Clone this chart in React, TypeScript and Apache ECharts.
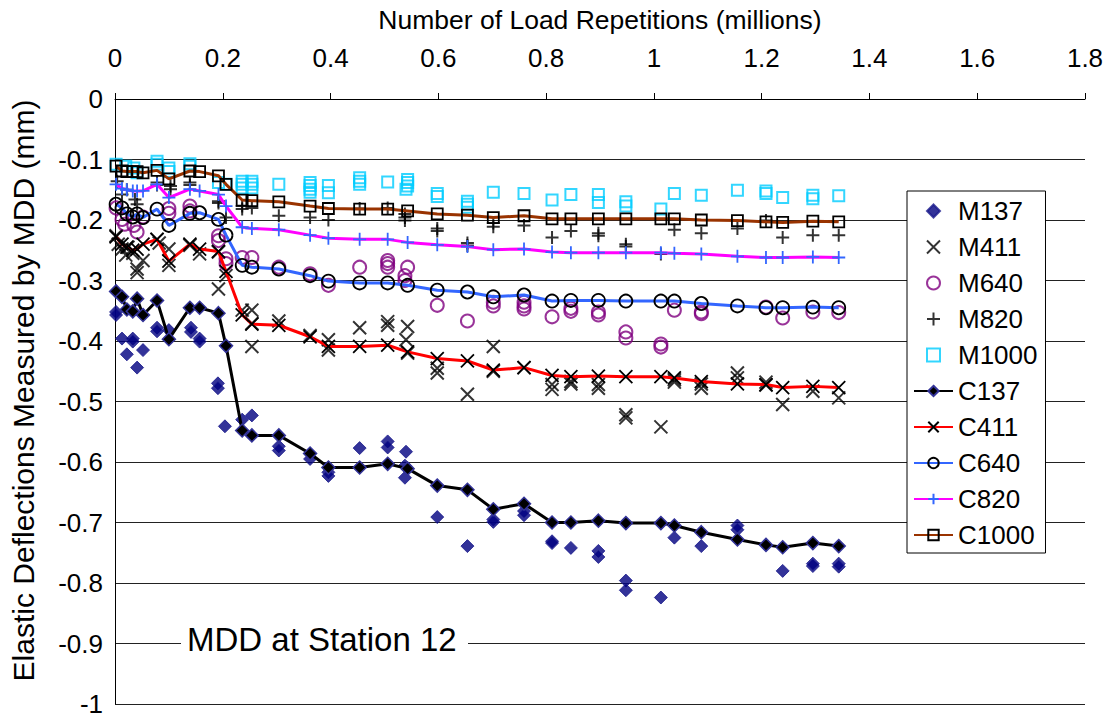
import React, { useEffect, useRef } from "react";
import * as echarts from "echarts";

// Load repetitions (millions) at which the calculated deflections were evaluated
const cycles = [
  0.002, 0.013, 0.022, 0.033, 0.041, 0.052, 0.078, 0.1, 0.139, 0.157, 0.192, 0.206,
  0.236, 0.254, 0.304, 0.362, 0.396, 0.454, 0.506, 0.543, 0.598, 0.654, 0.702, 0.759,
  0.811, 0.846, 0.897, 0.948, 1.013, 1.038, 1.088, 1.155, 1.208, 1.239, 1.295, 1.343,
];

// Calculated deflections (mm), one value per entry of `cycles`
const c137 = [
  -0.318, -0.327, -0.348, -0.351, -0.33, -0.357, -0.333, -0.397, -0.345, -0.345, -0.354, -0.408,
  -0.548, -0.556, -0.556, -0.586, -0.609, -0.609, -0.603, -0.611, -0.639, -0.646, -0.678, -0.669,
  -0.7, -0.7, -0.697, -0.701, -0.701, -0.705, -0.716, -0.728, -0.737, -0.741, -0.734, -0.739,
];
const c411 = [
  -0.228, -0.24, -0.245, -0.25, -0.248, -0.24, -0.232, -0.268, -0.24, -0.248, -0.252, -0.285,
  -0.357, -0.372, -0.374, -0.393, -0.409, -0.409, -0.407, -0.418, -0.429, -0.433, -0.448, -0.444,
  -0.457, -0.459, -0.458, -0.459, -0.459, -0.461, -0.467, -0.471, -0.472, -0.477, -0.475, -0.477,
];
const c640 = [
  -0.174, -0.18, -0.19, -0.195, -0.19, -0.196, -0.182, -0.209, -0.189, -0.188, -0.199, -0.225,
  -0.275, -0.278, -0.281, -0.292, -0.301, -0.304, -0.304, -0.308, -0.316, -0.319, -0.327, -0.324,
  -0.334, -0.333, -0.333, -0.334, -0.334, -0.334, -0.338, -0.342, -0.345, -0.345, -0.344, -0.345,
];
const c820 = [
  -0.141, -0.148, -0.15, -0.152, -0.152, -0.152, -0.141, -0.163, -0.149, -0.152, -0.158, -0.177,
  -0.212, -0.214, -0.216, -0.225, -0.23, -0.232, -0.232, -0.237, -0.241, -0.244, -0.249, -0.248,
  -0.253, -0.254, -0.254, -0.254, -0.254, -0.255, -0.256, -0.26, -0.262, -0.262, -0.261, -0.262,
];
const c1000 = [
  -0.111, -0.119, -0.12, -0.12, -0.12, -0.122, -0.118, -0.132, -0.119, -0.12, -0.127, -0.141,
  -0.167, -0.168, -0.17, -0.177, -0.181, -0.182, -0.182, -0.185, -0.19, -0.192, -0.196, -0.193,
  -0.198, -0.198, -0.198, -0.198, -0.198, -0.198, -0.2, -0.201, -0.203, -0.204, -0.202, -0.203,
];

// Measured deflections: [repetitions (millions), deflection (mm)]
const m137 = [
  [0.002, -0.352], [0.002, -0.357], [0.013, -0.396], [0.022, -0.422], [0.033, -0.396], [0.033, -0.401],
  [0.041, -0.444], [0.052, -0.415], [0.078, -0.378], [0.078, -0.384], [0.1, -0.382], [0.141, -0.378],
  [0.141, -0.385], [0.157, -0.396], [0.157, -0.401], [0.191, -0.47], [0.191, -0.478], [0.204, -0.541],
  [0.236, -0.53], [0.254, -0.523], [0.304, -0.574], [0.304, -0.581], [0.362, -0.595], [0.396, -0.617],
  [0.396, -0.623], [0.454, -0.577], [0.506, -0.566], [0.506, -0.576], [0.54, -0.583], [0.538, -0.606],
  [0.538, -0.626], [0.598, -0.691], [0.654, -0.739], [0.702, -0.695], [0.702, -0.699], [0.759, -0.681],
  [0.759, -0.688], [0.811, -0.731], [0.811, -0.734], [0.846, -0.742], [0.897, -0.747], [0.897, -0.757],
  [0.948, -0.796], [0.948, -0.812], [1.013, -0.824], [1.038, -0.725], [1.088, -0.739], [1.155, -0.705],
  [1.155, -0.712], [1.239, -0.78], [1.295, -0.772], [1.295, -0.768], [1.343, -0.768], [1.343, -0.773],
];
const m411 = [
  [0.002, -0.226], [0.006, -0.24], [0.013, -0.248], [0.02, -0.258], [0.024, -0.245], [0.033, -0.255],
  [0.041, -0.281], [0.041, -0.287], [0.052, -0.267], [0.078, -0.232], [0.082, -0.238], [0.1, -0.248],
  [0.1, -0.275], [0.139, -0.242], [0.157, -0.256], [0.192, -0.253], [0.192, -0.314], [0.206, -0.292],
  [0.236, -0.349], [0.254, -0.349], [0.254, -0.371], [0.254, -0.409], [0.304, -0.367], [0.362, -0.391],
  [0.396, -0.398], [0.396, -0.415], [0.454, -0.378], [0.506, -0.368], [0.506, -0.374], [0.543, -0.376],
  [0.54, -0.398], [0.543, -0.42], [0.598, -0.445], [0.598, -0.453], [0.654, -0.488], [0.702, -0.409],
  [0.702, -0.45], [0.759, -0.444], [0.811, -0.472], [0.811, -0.48], [0.846, -0.467], [0.846, -0.471],
  [0.897, -0.472], [0.897, -0.478], [0.948, -0.522], [0.948, -0.527], [1.013, -0.542], [1.038, -0.464],
  [1.038, -0.468], [1.088, -0.471], [1.088, -0.478], [1.155, -0.453], [1.155, -0.461], [1.208, -0.468],
  [1.208, -0.473], [1.239, -0.505], [1.295, -0.483], [1.343, -0.494],
];
const m640 = [
  [0.002, -0.18], [0.013, -0.199], [0.018, -0.207], [0.035, -0.209], [0.041, -0.22], [0.052, -0.195],
  [0.1, -0.181], [0.1, -0.189], [0.139, -0.177], [0.139, -0.185], [0.192, -0.226], [0.192, -0.234],
  [0.206, -0.264], [0.206, -0.272], [0.236, -0.262], [0.254, -0.262], [0.304, -0.278], [0.362, -0.289],
  [0.396, -0.308], [0.454, -0.278], [0.506, -0.267], [0.506, -0.272], [0.506, -0.278], [0.543, -0.278],
  [0.538, -0.292], [0.538, -0.3], [0.598, -0.341], [0.654, -0.367], [0.702, -0.336], [0.702, -0.342],
  [0.759, -0.336], [0.759, -0.342], [0.759, -0.347], [0.811, -0.36], [0.846, -0.346], [0.846, -0.351],
  [0.897, -0.352], [0.897, -0.357], [0.948, -0.385], [0.948, -0.395], [1.013, -0.405], [1.013, -0.41],
  [1.038, -0.349], [1.088, -0.352], [1.088, -0.355], [1.208, -0.344], [1.239, -0.362], [1.295, -0.352],
  [1.343, -0.353],
];
const m820 = [
  [0.004, -0.136], [0.013, -0.158], [0.022, -0.15], [0.041, -0.174], [0.037, -0.166], [0.078, -0.138],
  [0.078, -0.142], [0.103, -0.144], [0.103, -0.149], [0.139, -0.138], [0.139, -0.142], [0.192, -0.169],
  [0.192, -0.172], [0.206, -0.196], [0.236, -0.177], [0.236, -0.182], [0.254, -0.18], [0.304, -0.193],
  [0.362, -0.196], [0.396, -0.2], [0.454, -0.181], [0.506, -0.18], [0.538, -0.19], [0.538, -0.196],
  [0.538, -0.201], [0.598, -0.214], [0.598, -0.218], [0.654, -0.238], [0.654, -0.242], [0.702, -0.205],
  [0.702, -0.211], [0.759, -0.209], [0.811, -0.229], [0.846, -0.218], [0.897, -0.222], [0.897, -0.226],
  [0.948, -0.24], [0.948, -0.244], [1.013, -0.256], [1.038, -0.216], [1.088, -0.222], [1.155, -0.214],
  [1.208, -0.201], [1.239, -0.229], [1.295, -0.225], [1.343, -0.225],
];
const m1000 = [
  [0.002, -0.108], [0.02, -0.111], [0.035, -0.114], [0.041, -0.122], [0.078, -0.103], [0.078, -0.108],
  [0.1, -0.114], [0.1, -0.12], [0.139, -0.107], [0.139, -0.111], [0.192, -0.138], [0.206, -0.141],
  [0.236, -0.136], [0.236, -0.141], [0.236, -0.147], [0.254, -0.136], [0.254, -0.141], [0.254, -0.147],
  [0.304, -0.141], [0.362, -0.138], [0.362, -0.143], [0.362, -0.149], [0.362, -0.154], [0.396, -0.143],
  [0.396, -0.155], [0.454, -0.13], [0.454, -0.136], [0.454, -0.141], [0.506, -0.137], [0.543, -0.133],
  [0.543, -0.138], [0.543, -0.144], [0.54, -0.149], [0.598, -0.156], [0.598, -0.161], [0.654, -0.169],
  [0.654, -0.174], [0.654, -0.179], [0.702, -0.154], [0.759, -0.156], [0.811, -0.167], [0.846, -0.158],
  [0.897, -0.158], [0.897, -0.171], [0.948, -0.17], [0.948, -0.177], [1.013, -0.182], [1.038, -0.156],
  [1.088, -0.159], [1.155, -0.151], [1.208, -0.152], [1.208, -0.156], [1.239, -0.163], [1.295, -0.159],
  [1.295, -0.165], [1.343, -0.16],
];

const xTitle = "Number of Load Repetitions (millions)";
const yTitle = "Elastic Deflections Measured by MDD (mm)";
const stationNote = "MDD at Station 12";

const FONT = "'Liberation Sans', Arial, sans-serif";
// Marker outlines as paths so the legend keeps their aspect ratio
const CROSS = "path://M0,0L10,10M10,0L0,10";
const PLUS = "path://M5,0L5,10M0,5L10,5";
const DIAMOND = "path://M5,0L10,5L5,10L0,5Z";
const SQUARE = "path://M0,0L10,0L10,10L0,10Z";

const pair = (ys: number[]) => cycles.map((x, i) => [x, ys[i]]);

export default function App() {
  const ref = useRef<HTMLDivElement>(null);

  useEffect(() => {
    if (!ref.current) return;
    const chart = echarts.init(ref.current, null, { renderer: "svg" });

    const scatter = (name: string, data: number[][], symbol: string, size: number, itemStyle: any) => ({
      name,
      type: "scatter",
      data,
      symbol,
      symbolSize: size,
      symbolKeepAspect: true,
      itemStyle,
      z: 2,
    });
    const line = (name: string, ys: number[], color: string, symbol: string, size: number, itemStyle: any) => ({
      name,
      type: "line",
      data: pair(ys),
      symbol,
      symbolSize: size,
      showAllSymbol: true,
      lineStyle: { color, width: 3 },
      itemStyle,
      z: 3,
    });

    chart.setOption({
      animation: false,
      backgroundColor: "#fff",
      textStyle: { fontFamily: FONT, color: "#000" },
      grid: { left: 113, top: 99, right: 24, bottom: 15 },
      xAxis: {
        type: "value",
        position: "top",
        min: 0,
        max: 1.8,
        interval: 0.2,
        name: xTitle,
        nameLocation: "middle",
        nameGap: 66,
        nameTextStyle: { fontSize: 26.5, fontFamily: FONT, color: "#000" },
        axisLine: { onZero: false, lineStyle: { color: "#000", width: 1 } },
        axisTick: { show: true, length: 6, lineStyle: { color: "#000" } },
        axisLabel: { fontSize: 26, fontFamily: FONT, color: "#000", margin: 28 },
        splitLine: { show: false },
      },
      yAxis: {
        type: "value",
        min: -1,
        max: 0,
        interval: 0.1,
        name: yTitle,
        nameLocation: "middle",
        nameGap: 77,
        nameTextStyle: { fontSize: 30, fontFamily: FONT, color: "#000", padding: [0, 0, 0, 22] },
        axisLine: { show: true, onZero: false, lineStyle: { color: "#000", width: 1 } },
        axisTick: { show: false },
        axisLabel: { fontSize: 26, lineHeight: 22, fontFamily: FONT, color: "#000", margin: 12 },
        splitLine: { show: true, lineStyle: { color: "#222", width: 1 } },
      },
      legend: {
        orient: "vertical",
        left: 907,
        top: 191,
        backgroundColor: "#fff",
        borderColor: "#000",
        borderWidth: 1,
        padding: [7, 8, 5, 6],
        itemWidth: 39,
        itemHeight: 13,
        itemGap: 10,
        symbolKeepAspect: true,
        textStyle: { fontSize: 26, fontFamily: FONT, color: "#000", lineHeight: 26 },
        data: ["M137", "M411", "M640", "M820", "M1000", "C137", "C411", "C640", "C820", "C1000"],
      },
      graphic: [
        { type: "rect", left: 181, top: 622, shape: { width: 287, height: 40 }, style: { fill: "#fff" }, z: 100 },
        {
          type: "text",
          left: 187,
          top: 623,
          style: { text: stationNote, fontSize: 33, fontFamily: FONT, fill: "#000" },
          z: 101,
        },
      ],
      series: [
        scatter("M137", m137, DIAMOND, 13, { color: "#000080", borderColor: "#1a1a8c", borderWidth: 1 }),
        scatter("M411", m411, CROSS, 13, { color: "#000", borderColor: "#000", borderWidth: 2 }),
        scatter("M640", m640, "circle", 13, { color: "transparent", borderColor: "#800080", borderWidth: 2 }),
        scatter("M820", m820, PLUS, 13, { color: "#000", borderColor: "#000", borderWidth: 2 }),
        scatter("M1000", m1000, SQUARE, 11, { color: "transparent", borderColor: "#00CCFF", borderWidth: 2 }),
        line("C137", c137, "#000", "diamond", 13, { color: "#000", borderColor: "#333399", borderWidth: 1.5 }),
        line("C411", c411, "#FF0000", CROSS, 13, { color: "#000", borderColor: "#000", borderWidth: 1.8 }),
        line("C640", c640, "#3366FF", "circle", 13, { color: "transparent", borderColor: "#000", borderWidth: 1.8 }),
        line("C820", c820, "#FF00FF", PLUS, 13, { color: "#3366FF", borderColor: "#3366FF", borderWidth: 1.8 }),
        line("C1000", c1000, "#993300", SQUARE, 11, { color: "transparent", borderColor: "#000", borderWidth: 1.8 }),
      ],
    });

    return () => chart.dispose();
  }, []);

  return (
    <div
      ref={ref}
      style={{ position: "fixed", left: 0, top: 0, width: 1109, height: 719, background: "#fff" }}
    />
  );
}
